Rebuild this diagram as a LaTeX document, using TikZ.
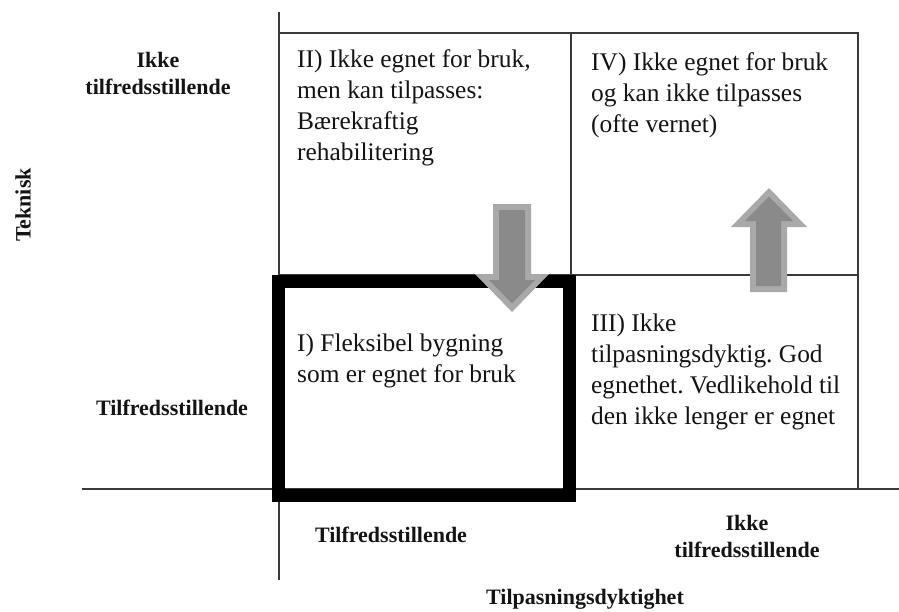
\documentclass[tikz,border=0pt]{standalone}
\usepackage{fontspec}
\setmainfont{Liberation Serif}
\frenchspacing
\definecolor{linecol}{HTML}{3A3A3A}
\definecolor{txt}{HTML}{141414}
\definecolor{arrowlight}{HTML}{A9A9A9}
\definecolor{arrowdark}{HTML}{8A8A8A}
\begin{document}
\begin{tikzpicture}[x=1pt,y=-1pt,
  axis/.style={draw=linecol, line width=1.5pt},
  gridline/.style={draw=linecol, line width=1.3pt},
  body/.style={font=\fontsize{25.4}{31}\selectfont\frenchspacing, align=left, anchor=base west, inner sep=0pt, text=txt},
  lab/.style={font=\fontsize{22}{27}\selectfont\bfseries, align=center, anchor=base, inner sep=0pt, text=txt},
  arrowouter/.style={fill=arrowlight, draw=none},
  arrowinner/.style={fill=arrowdark, draw=none}]
\useasboundingbox (0,0) rectangle (899,611);
\fill[white] (0,0) rectangle (899,611);
% axes
\draw[axis] (279,12) -- (279,580);
\draw[axis] (82,489) -- (899,489);
% grid
\draw[gridline] (279,33) -- (858,33) -- (858,489);
\draw[gridline] (571,33) -- (571,489);
\draw[gridline] (279,275) -- (858,275);
% highlighted quadrant I
\draw[line width=13pt] (278.5,281.5) rectangle (569.5,495.5);
% down arrow
\fill[arrowouter] (493,204) -- (531,204) -- (531,274) -- (549,274) -- (512,312) -- (475,274) -- (493,274) -- cycle;
\fill[arrowinner] (499,210) -- (525,210) -- (525,280) -- (535,280) -- (512,303.5) -- (489,280) -- (499,280) -- cycle;
% up arrow
\fill[arrowouter] (769,188) -- (807,227) -- (787,227) -- (787,292) -- (750,292) -- (750,227) -- (731,227) -- cycle;
\fill[arrowinner] (769,196.5) -- (793,221) -- (781,221) -- (781,286) -- (756,286) -- (756,221) -- (745,221) -- cycle;
% quadrant texts (anchor = baseline of last line)
\node[body] (q2) at (297,160) {II) Ikke egnet for bruk,\\men kan tilpasses:\\Bærekraftig\\rehabilitering};
\node[body] (q4) at (591,132) {IV) Ikke egnet for bruk\\og kan ikke tilpasses\\(ofte vernet)};
\node[body] (q1) at (297,382) {I) Fleksibel bygning\\som er egnet for bruk};
\node[body] (q3) at (591,424) {III) Ikke\\tilpasningsdyktig. God\\egnethet. Vedlikehold til\\den ikke lenger er egnet};
% axis labels
\node[lab] (yhigh) at (158,94) {Ikke\\tilfredsstillende};
\node[lab] (ylow) at (172,415) {Tilfredsstillende};
\node[lab] (xlow) at (391,542) {Tilfredsstillende};
\node[lab] (xhigh) at (747,557) {Ikke\\tilfredsstillende};
\node[lab] (xtitle) at (585,604) {Tilpasningsdyktighet};
\node[lab, rotate=90, anchor=center] (ytitle) at (23,205) {Teknisk};
\end{tikzpicture}
\end{document}
